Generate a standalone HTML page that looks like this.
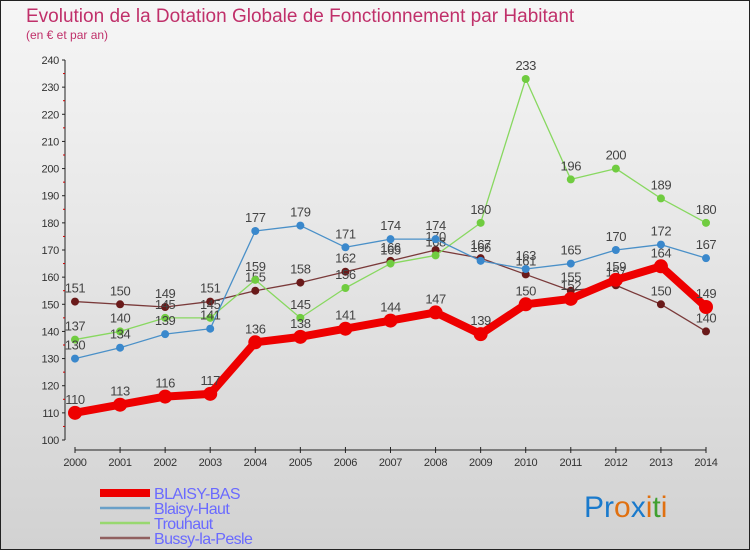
<!DOCTYPE html>
<html><head><meta charset="utf-8"><style>
body{margin:0;width:750px;height:550px;overflow:hidden;font-family:"Liberation Sans",sans-serif;}
svg{display:block}
</style></head><body>
<svg id="c" width="750" height="550" xmlns="http://www.w3.org/2000/svg">
<defs><linearGradient id="bg" x1="0" y1="0" x2="0" y2="1"><stop offset="0" stop-color="#f6f6f6"/><stop offset="1" stop-color="#d2d2d2"/></linearGradient></defs>
<rect x="0.5" y="0.5" width="749" height="549" fill="url(#bg)" stroke="#222"/>
<text x="26" y="22" font-size="19" fill="#c0306a">Evolution de la Dotation Globale de Fonctionnement par Habitant</text>
<text x="26" y="39" font-size="12" fill="#c0306a">(en € et par an)</text>
<g id="axes"></g><g id="series"></g><g id="legend"></g>
<text x="584" y="517" font-size="30"><tspan fill="#1a7acc">Pr</tspan><tspan fill="#e07010">o</tspan><tspan fill="#1a7acc">x</tspan><tspan fill="#e07010">i</tspan><tspan fill="#40a030">t</tspan><tspan fill="#e07010">i</tspan></text>
</svg>
<script>
const years=[2000,2001,2002,2003,2004,2005,2006,2007,2008,2009,2010,2011,2012,2013,2014];
const yTicks=[100,110,120,130,140,150,160,170,180,190,200,210,220,230,240];
const blaisyBas=[110,113,116,117,136,138,141,144,147,139,150,152,159,164,149];
const blaisyHaut=[130,134,139,141,177,179,171,174,174,166,163,165,170,172,167];
const trouhaut=[137,140,145,145,159,145,156,165,168,180,233,196,200,189,180];
const bussy=[151,150,149,151,155,158,162,166,170,167,161,155,157,150,140];
const NS="http://www.w3.org/2000/svg";
const X=i=>75+i*(706-75)/14;
const Y=v=>440-(v-100)*380/140;
function mk(tag,at,parent,txt){const e=document.createElementNS(NS,tag);for(const k in at)e.setAttribute(k,at[k]);if(txt!==undefined)e.textContent=txt;parent.appendChild(e);return e;}
const ax=document.getElementById('axes');
let a=mk('line',{x1:65,y1:60,x2:65,y2:440,stroke:'#222'},ax);


a=mk('line',{x1:75,y1:450,x2:706,y2:450,stroke:'#222'},ax);


yTicks.forEach(v=>{
 const t=mk('text',{x:59,y:Y(v)+4,'font-size':11,'text-anchor':'end',fill:'#333','letter-spacing':'-0.3'},ax,v);
 
 
 mk('line',{x1:62,y1:Y(v),x2:65,y2:Y(v),stroke:'#222'},ax);
 if(v<240) mk('line',{x1:63,y1:Y(v+5),x2:65,y2:Y(v+5),stroke:'#c00'},ax);
});
years.forEach((y,i)=>{
 mk('line',{x1:X(i),y1:447,x2:X(i),y2:453,stroke:'#222'},ax);
 const t=mk('text',{x:X(i),y:466,'font-size':11,'text-anchor':'middle',fill:'#333','letter-spacing':'-0.3'},ax,y);
 
 
});
const sg=document.getElementById('series');
function draw(data,color,dot,w,r,name){
 const g=mk('g',{},sg);
 
 
 const p=mk('polyline',{points:data.map((v,i)=>X(i)+','+Y(v)).join(' '),fill:'none',stroke:color,'stroke-width':w,'stroke-linejoin':'round'},g);
 
 
 data.forEach((v,i)=>{
  const c=mk('circle',{cx:X(i),cy:Y(v),r:r,fill:dot},g);
  
  
  const t=mk('text',{x:X(i),y:Y(v)-9,'font-size':13,'text-anchor':'middle',fill:'#444','letter-spacing':'-0.4'},g,v);
  
  
 });
}
draw(bussy,'#7a3a3a','#6a1a1a',1.3,4,'bussy-la-pesle');
draw(trouhaut,'#88d860','#70cc40',1.3,4,'trouhaut');
draw(blaisyHaut,'#4a90c8','#3a88cc',1.3,4,'blaisy-haut');
draw(blaisyBas,'#ee0000','#ee0000',8,7,'blaisy-bas');
const lg=document.getElementById('legend');
[['BLAISY-BAS','#ee0000',8],['Blaisy-Haut','#6aa0c8',2.5],['Trouhaut','#98d870',2.5],['Bussy-la-Pesle','#906060',2.5]].forEach((d,i)=>{
 const y=493+i*15;
 const g=mk('g',{},lg);
 
 
 mk('line',{x1:100,y1:y,x2:150,y2:y,stroke:d[1],'stroke-width':d[2]},g);
 mk('text',{x:154,y:y+6,'font-size':16,fill:'#6a6aff','letter-spacing':'-0.6'},g,d[0]);
});
</script>
</body></html>
